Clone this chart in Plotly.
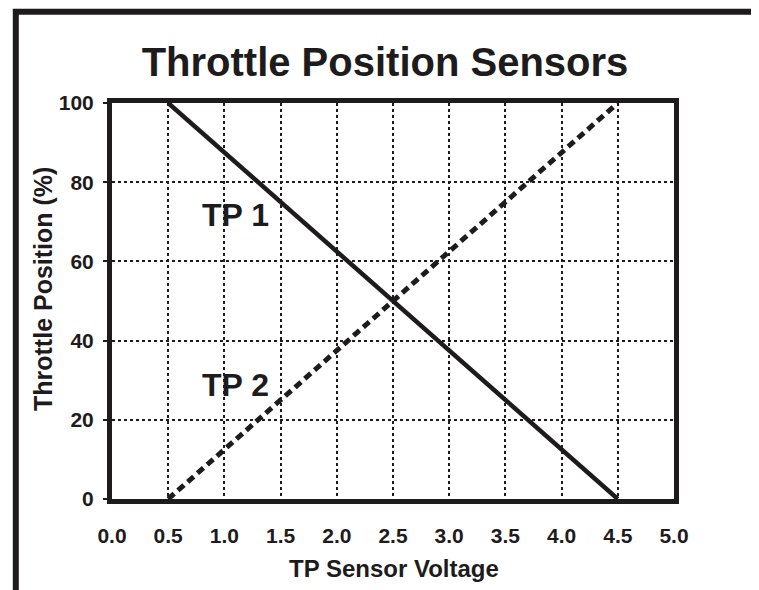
import plotly.graph_objects as go

voltage = [0.5, 4.5]
tp1 = [100, 0]
tp2 = [0, 100]
x_ticks = [0.0, 0.5, 1.0, 1.5, 2.0, 2.5, 3.0, 3.5, 4.0, 4.5, 5.0]
x_tick_labels = ["0.0", "0.5", "1.0", "1.5", "2.0", "2.5", "3.0", "3.5", "4.0", "4.5", "5.0"]
y_ticks = [0, 20, 40, 60, 80, 100]
y_tick_labels = ["0", "20", "40", "60", "80", "100"]

OFF = 8  # page body margin
W, H = 759 - OFF, 590 - OFF
ML, MT = 112 - OFF, 103 - OFF
PR, PB = 674 - OFF, 499 - OFF
MR, MB = W - PR, H - PB
PW, PH = PR - ML, PB - MT

def px(x):
    return (x - OFF - ML) / PW

def py(y):
    return (PB - (y - OFF)) / PH

FONT = "Liberation Sans, Arial, sans-serif"
INK = "#1e1b1c"

fig = go.Figure()
fig.add_trace(go.Scatter(x=voltage, y=tp1, mode="lines",
                         line=dict(color=INK, width=4.5), showlegend=False))
fig.add_trace(go.Scatter(x=voltage, y=tp2, mode="lines",
                         line=dict(color=INK, width=5, dash="8px,5px"), showlegend=False))

fig.add_annotation(x=1.095, y=71.6, text="<b>TP 1</b>", showarrow=False,
                   font=dict(size=32, color=INK, family=FONT), xanchor="center", yanchor="middle")
fig.add_annotation(x=1.10, y=28.7, text="<b>TP 2</b>", showarrow=False,
                   font=dict(size=32, color=INK, family=FONT), xanchor="center", yanchor="middle")

# axis titles
fig.add_annotation(xref="paper", yref="paper", x=px(394), y=py(568), text="<b>TP Sensor Voltage</b>",
                   showarrow=False, font=dict(size=24, color=INK, family=FONT),
                   xanchor="center", yanchor="middle")
fig.add_annotation(xref="paper", yref="paper", x=px(43), y=py(289), text="<b>Throttle Position (%)</b>",
                   showarrow=False, textangle=-90, font=dict(size=25, color=INK, family=FONT),
                   xanchor="center", yanchor="middle")

# outer frame (open at bottom)
fig.add_shape(type="path", xref="paper", yref="paper",
              path=f"M {px(15.8)},{py(620)} L {px(15.8)},{py(11.7)} L {px(754)},{py(11.7)} L {px(754)},{py(620)}",
              line=dict(color=INK, width=6), layer="above")

fig.update_layout(
    width=W, height=H,
    margin=dict(l=ML, r=MR, t=MT, b=MB),
    paper_bgcolor="white", plot_bgcolor="white",
    title=dict(text="<b>Throttle Position Sensors</b>", xref="container", yref="container",
               x=(385 - OFF) / W, xanchor="center",
               y=1 - (62 - OFF) / H, yanchor="middle",
               font=dict(size=40, color=INK, family=FONT)),
    font=dict(family=FONT, color=INK),
)
fig.update_xaxes(
    range=[0, 5], tickvals=x_ticks, ticktext=[f"<b>{t}</b>" for t in x_tick_labels],
    showline=True, mirror=True, linewidth=5, linecolor=INK,
    showgrid=True, gridcolor=INK, gridwidth=2.2, griddash="3px,3px",
    zeroline=False, ticks="", ticklabelstandoff=14,
    tickfont=dict(size=21, family=FONT, color=INK),
)
fig.update_yaxes(
    range=[0, 100], tickvals=y_ticks, ticktext=[f"<b>{t}</b>" for t in y_tick_labels],
    showline=True, mirror=True, linewidth=5, linecolor=INK,
    showgrid=True, gridcolor=INK, gridwidth=2.2, griddash="3px,3px",
    zeroline=False, ticks="outside", ticklen=4, tickwidth=2, tickcolor=INK,
    ticklabelstandoff=5,
    tickfont=dict(size=21, family=FONT, color=INK),
)

fig.write_html("out.html")
